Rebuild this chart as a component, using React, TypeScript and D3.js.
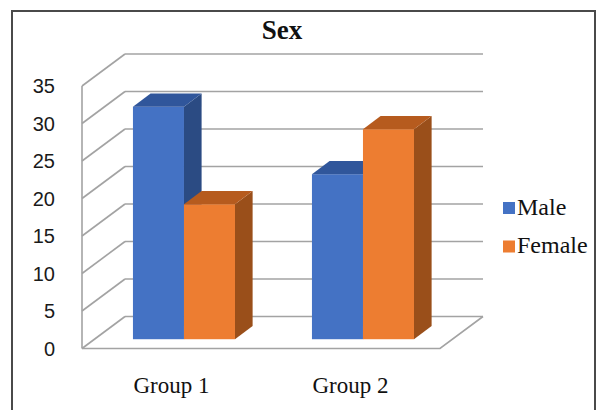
import React from 'react';
import * as d3 from 'd3';

const categories = ['Group 1', 'Group 2'];
const seriesNames = ['Male', 'Female'];
const maleValues = [31, 22];
const femaleValues = [18, 28];
const yTicks = [0, 5, 10, 15, 20, 25, 30, 35];
const titleText = 'Sex';

const frontColors = ['#4472C4', '#ED7D31'];
const topColors = ['#30569B', '#B65B1E'];
const sideColors = ['#2B4B83', '#9A4F1A'];

const SERIF = '"Liberation Serif", "Times New Roman", serif';
const SANS = '"Liberation Sans", Arial, sans-serif';

export default function App() {
  const W = 598;
  const H = 410;
  const x0 = 82;
  const x1 = 440;
  const yScale = d3.scaleLinear().domain([0, 35]).range([348.5, 86]);
  const D = { dx: 43, dy: -32 };
  const z0 = 0.29;
  const z1 = 0.7;
  const gridColor = '#a3a3a3';

  const xBand = d3
    .scaleBand<string>()
    .domain(categories)
    .range([x0, x1])
    .paddingInner(0.43)
    .paddingOuter(0.215);
  const xSub = d3
    .scaleBand<string>()
    .domain(seriesNames)
    .range([0, xBand.bandwidth()]);

  const seriesValues = [maleValues, femaleValues];

  const bars: React.ReactNode[] = [];
  categories.forEach((cat, ci) => {
    seriesNames.forEach((s, si) => {
      const v = seriesValues[si][ci];
      const fx = (xBand(cat) as number) + (xSub(s) as number) + D.dx * z0;
      const fw = xSub.bandwidth();
      const yTop = yScale(v) + D.dy * z0;
      const yBot = yScale(0) + D.dy * z0;
      const ddx = D.dx * (z1 - z0);
      const ddy = D.dy * (z1 - z0);
      const xr = fx + fw;
      bars.push(
        <g key={cat + s}>
          <rect x={fx} y={yTop} width={fw} height={yBot - yTop} fill={frontColors[si]} />
          <polygon
            points={`${xr},${yTop} ${xr + ddx},${yTop + ddy} ${xr + ddx},${yBot + ddy} ${xr},${yBot}`}
            fill={sideColors[si]}
          />
          <polygon
            points={`${fx},${yTop} ${xr},${yTop} ${xr + ddx},${yTop + ddy} ${fx + ddx},${yTop + ddy}`}
            fill={topColors[si]}
          />
        </g>
      );
    });
  });

  return (
    <svg width={W} height={H} style={{ position: 'absolute', left: 0, top: 0, background: '#fff' }}>
      <rect x={0} y={0} width={W} height={H} fill="#fff" />
      <path d={`M12,${H + 2} L12,11 L595,11 L595,${H + 2}`} fill="none" stroke="#4a4a4a" strokeWidth={2} />
      <text
        x={282}
        y={39}
        textAnchor="middle"
        fontSize={27}
        fontWeight="bold"
        fill="#111"
        style={{ fontFamily: SERIF }}
      >
        {titleText}
      </text>

      {yTicks.map((t) => (
        <line
          key={'b' + t}
          x1={x0 + D.dx}
          x2={x1 + D.dx}
          y1={yScale(t) + D.dy}
          y2={yScale(t) + D.dy}
          stroke={gridColor}
          strokeWidth={1.6}
        />
      ))}
      {yTicks.map((t) => (
        <line
          key={'s' + t}
          x1={x0}
          x2={x0 + D.dx}
          y1={yScale(t)}
          y2={yScale(t) + D.dy}
          stroke={gridColor}
          strokeWidth={1.6}
        />
      ))}
      <line x1={x0} x2={x0} y1={yScale(35)} y2={yScale(0)} stroke={gridColor} strokeWidth={1.6} />
      <polyline
        points={`${x0},${yScale(0)} ${x1},${yScale(0)} ${x1 + D.dx},${yScale(0) + D.dy}`}
        fill="none"
        stroke={gridColor}
        strokeWidth={1.6}
      />

      {bars}

      {yTicks.map((t) => (
        <text
          key={'l' + t}
          x={55}
          y={yScale(t)}
          dy="0.36em"
          textAnchor="end"
          fontSize={20}
          fill="#1a1a1a"
          style={{ fontFamily: SANS }}
        >
          {t}
        </text>
      ))}
      {categories.map((c) => (
        <text
          key={'c' + c}
          x={(xBand(c) as number) + xBand.bandwidth() / 2}
          y={393}
          textAnchor="middle"
          fontSize={23}
          fill="#111"
          style={{ fontFamily: SERIF }}
        >
          {c}
        </text>
      ))}
      {seriesNames.map((s, i) => (
        <g key={'lg' + s} transform={`translate(503, ${202 + i * 38.5})`}>
          <rect x={0} y={0} width={12} height={12} fill={frontColors[i]} />
          <text x={14} y={12.5} fontSize={24} fill="#111" style={{ fontFamily: SERIF }}>
            {s}
          </text>
        </g>
      ))}
    </svg>
  );
}
